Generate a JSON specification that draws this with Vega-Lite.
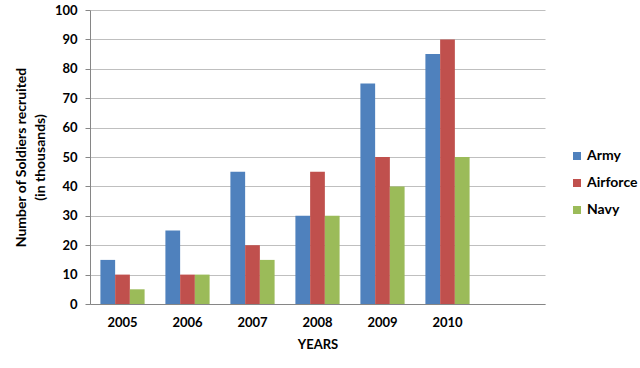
{
  "$schema": "https://vega.github.io/schema/vega-lite/v6.json",
  "width": 455,
  "height": 294,
  "autosize": "none",
  "padding": {"left": 90, "top": 10, "right": 95, "bottom": 64},
  "background": "white",
  "config": {
    "font": "Lato",
    "view": {"stroke": null}
  },
  "data": {
    "values": [
      {"year": "2005", "service": "Army", "value": 15},
      {"year": "2005", "service": "Airforce", "value": 10},
      {"year": "2005", "service": "Navy", "value": 5},
      {"year": "2006", "service": "Army", "value": 25},
      {"year": "2006", "service": "Airforce", "value": 10},
      {"year": "2006", "service": "Navy", "value": 10},
      {"year": "2007", "service": "Army", "value": 45},
      {"year": "2007", "service": "Airforce", "value": 20},
      {"year": "2007", "service": "Navy", "value": 15},
      {"year": "2008", "service": "Army", "value": 30},
      {"year": "2008", "service": "Airforce", "value": 45},
      {"year": "2008", "service": "Navy", "value": 30},
      {"year": "2009", "service": "Army", "value": 75},
      {"year": "2009", "service": "Airforce", "value": 50},
      {"year": "2009", "service": "Navy", "value": 40},
      {"year": "2010", "service": "Army", "value": 85},
      {"year": "2010", "service": "Airforce", "value": 90},
      {"year": "2010", "service": "Navy", "value": 50}
    ]
  },
  "mark": {"type": "bar"},
  "encoding": {
    "x": {
      "field": "year",
      "type": "nominal",
      "scale": {"domain": ["2005", "2006", "2007", "2008", "2009", "2010", " "], "paddingInner": 0.32, "paddingOuter": 0.16},
      "axis": {
        "title": "YEARS",
        "labelAngle": 0,
        "ticks": false,
        "labelFontSize": 13,
        "labelFontWeight": "bold",
        "labelColor": "#000000",
        "labelPadding": 12,
        "titleFontSize": 13,
        "titleFontWeight": "bold",
        "titleColor": "#000000",
        "titlePadding": 9,
        "domainColor": "#868686",
        "grid": false
      }
    },
    "xOffset": {"field": "service", "type": "nominal", "sort": ["Army", "Airforce", "Navy"]},
    "y": {
      "field": "value",
      "type": "quantitative",
      "scale": {"domain": [0, 100], "nice": false},
      "axis": {
        "values": [0, 10, 20, 30, 40, 50, 60, 70, 80, 90, 100],
        "title": ["Number of Soldiers recruited", "(in thousands)"],
        "titleFontSize": 14,
        "titleFontWeight": "bold",
        "titleColor": "#000000",
        "titleLineHeight": 19,
        "titleAngle": -90,
        "titleX": -69,
        "titleY": 147,
        "titleAlign": "center",
        "titleBaseline": "middle",
        "labelFontSize": 13,
        "labelFontWeight": "bold",
        "labelColor": "#000000",
        "labelPadding": 8,
        "tickSize": 5,
        "tickColor": "#868686",
        "domainColor": "#868686",
        "gridColor": "#BFBFBF"
      }
    },
    "color": {
      "field": "service",
      "type": "nominal",
      "sort": ["Army", "Airforce", "Navy"],
      "scale": {"domain": ["Army", "Airforce", "Navy"], "range": ["#4F81BD", "#C0504D", "#9BBB59"]},
      "legend": {
        "title": null,
        "orient": "none",
        "legendX": 480,
        "legendY": 139,
        "symbolType": "square",
        "symbolSize": 64,
        "symbolStrokeWidth": 0,
        "symbolOpacity": 1,
        "labelFontSize": 14,
        "labelFontWeight": "bold",
        "labelColor": "#000000",
        "labelOffset": 3,
        "rowPadding": 13,
        "padding": 0
      }
    }
  }
}
